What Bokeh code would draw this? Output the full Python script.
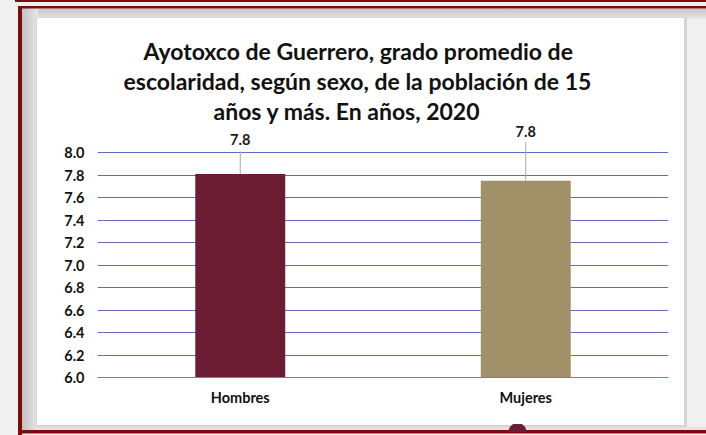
from bokeh.plotting import figure
from bokeh.models import (FactorRange, Range1d, FixedTicker, ColumnDataSource,
                          NumeralTickFormatter, Title)
from bokeh.embed import file_html
from bokeh.resources import INLINE
from bokeh.core.properties import value

# ---------------- data ----------------
categories = ["Hombres", "Mujeres"]
values = [7.81, 7.75]
value_labels = ["7.8", "7.8"]
y_ticks = [6.0, 6.2, 6.4, 6.6, 6.8, 7.0, 7.2, 7.4, 7.6, 7.8, 8.0]
title_lines = [
    "Ayotoxco de Guerrero, grado promedio de",
    "escolaridad, según sexo, de la población de 15",
    "años y más. En años, 2020",
]

# ---------------- styles / layout ----------------
bar_colors = ["#6a1d33", "#a09169"]
label_y = [8.112, 8.187]      # data-label positions (dragged labels)
leader_top = [8.01, 8.094]    # leader line ends
title_offsets = [46, 26, 116]   # left offsets that centre each title line

W, H = 706, 435
FL, FR, FT, FB = 97, 668, 124, 377      # frame edges in canvas px
PX_PER_UNIT = 112.5
Y0 = 6.0
Y1 = Y0 + (FB - FT) / PX_PER_UNIT
FONT = "Lato"

bg_layers = ", ".join([
    # small maroon dome on the bottom line
    "radial-gradient(circle at 50% 100%, #6b1f35 8.5px, rgba(0,0,0,0) 9.5px) 507px 424px / 21px 8px no-repeat",
    # dark red lines
    "linear-gradient(#7a0c0c,#7a0c0c) 15px 0px / 100% 2px no-repeat",
    "linear-gradient(#7a0c0c,#7a0c0c) 17.5px 6px / 100% 2.5px no-repeat",
    "linear-gradient(#7a0c0c,#7a0c0c) 17.5px 6px / 4px 100% no-repeat",
    "linear-gradient(#7a0c0c,#7a0c0c) 17.5px 429.5px / 100% 3.5px no-repeat",
    # white panel with thin grey border
    "linear-gradient(#ffffff,#ffffff) 37px 18px / 647px 407px no-repeat",
    "linear-gradient(#d6d6d6,#d6d6d6) 36px 17px / 651px 410px no-repeat",
    # shadow bands inside the red frame
    "linear-gradient(to right,#c2c2c2,#e6e6e6) 21.5px 8px / 16px 422px no-repeat",
    "linear-gradient(#c6c6c6,#e8e8e8) 21.5px 8.5px / 690px 10px no-repeat",
    "linear-gradient(#e2e2e2,#e2e2e2) 21.5px 427px / 690px 3px no-repeat",
])

p = figure(width=W, height=H, x_range=FactorRange(factors=categories),
           y_range=Range1d(Y0, Y1), output_backend="svg", toolbar_location=None,
           title=None,
           min_border_left=FL, min_border_right=W - FR,
           min_border_top=FT, min_border_bottom=H - FB,
           styles={"background": bg_layers + ", #f1f0f1"})
p.x_range.range_padding = 0
p.border_fill_color = None
p.background_fill_color = "white"
p.outline_line_color = None

src = ColumnDataSource(dict(cat=categories, val=values, color=bar_colors,
                            lab=value_labels, lab_y=label_y, lead=leader_top))

p.vbar(x="cat", top="val", bottom=Y0, width=0.315, fill_color="color",
       line_color=None, source=src)
p.segment(x0="cat", y0="val", x1="cat", y1="lead", line_color="#a8a8a8",
          line_width=1, source=src)
p.text(x="cat", y="lab_y", text="lab", text_align="center", text_baseline="middle",
       text_font=value(FONT), text_font_style="bold", text_font_size="14.5px",
       text_color="#1a1a1a", source=src)

# title: one Title per line, added from the frame outwards
for line, off in reversed(list(zip(title_lines, title_offsets))):
    t = Title(text=line, align="left", offset=off, text_font=FONT,
              text_font_style="bold", text_font_size="23px", text_color="#111111")
    if "standoff" in t.properties():
        t.standoff = 0
    p.add_layout(t, "above")

# axes
ticker = FixedTicker(ticks=y_ticks)
p.yaxis.ticker = ticker
p.yaxis.formatter = NumeralTickFormatter(format="0.0")
p.yaxis.axis_line_color = None
p.yaxis.major_tick_line_color = None
p.yaxis.minor_tick_line_color = None
p.yaxis.major_tick_out = 0
p.yaxis.minor_tick_out = 0
p.yaxis.major_label_standoff = 13
p.yaxis.major_label_text_font = FONT
p.yaxis.major_label_text_font_style = "bold"
p.yaxis.major_label_text_font_size = "14.5px"
p.yaxis.major_label_text_color = "#111111"

p.xaxis.axis_line_color = "#cf5a7a"
p.xaxis.axis_line_width = 1
p.xaxis.major_tick_line_color = None
p.xaxis.minor_tick_line_color = None
p.xaxis.major_tick_out = 0
p.xaxis.minor_tick_out = 0
p.xaxis.major_label_standoff = 11
p.xaxis.major_label_text_font = FONT
p.xaxis.major_label_text_font_style = "bold"
p.xaxis.major_label_text_font_size = "14.5px"
p.xaxis.major_label_text_color = "#111111"

p.xgrid.grid_line_color = None
p.ygrid.ticker = ticker
p.ygrid.grid_line_color = "#5f6dc0"
p.ygrid.grid_line_width = 1

open("out.html", "w").write(file_html(p, INLINE))
